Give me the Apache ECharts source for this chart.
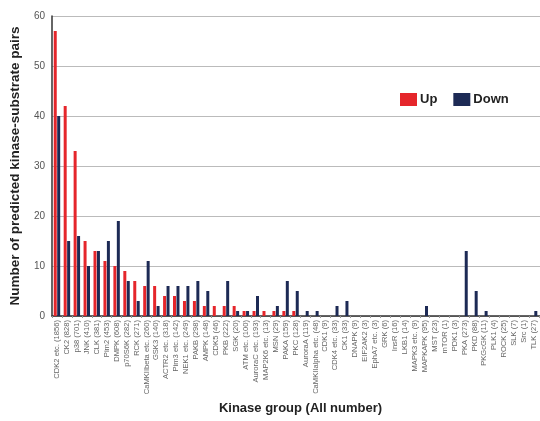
<!DOCTYPE html>
<html>
<head>
<meta charset="utf-8">
<script src="https://cdn.jsdelivr.net/npm/echarts@6/dist/echarts.min.js"></script>
<style>
  html, body { margin: 0; padding: 0; background: #fff; overflow: hidden; }
  /* the chart is a bit wider than the window: the last category is cut at the right edge */
  #main { width: 550px; height: 421px; }
</style>
</head>
<body>
<div id="main"></div>
<script>
  var kinases = ['CDK2 etc. (1856)', 'CK2 (828)', 'p38 (701)', 'JNK (410)', 'CLK (381)', 'Pim2 (453)',
    'DMPK (608)', 'p70S6K (282)', 'RCK (271)', 'CaMKIIbeta etc. (260)', 'GSK3 (140)', 'ACTR2 etc. (318)',
    'Pim3 etc. (142)', 'NEK1 etc. (249)', 'PAKB (298)', 'AMPK (148)', 'CDK5 (46)', 'PKB (222)', 'SGK (20)',
    'ATM etc. (100)', 'AuroraC etc. (193)', 'MAP2K6 etc. (13)', 'MSN (29)', 'PAKA (159)', 'PKC (128)',
    'AuroraA (119)', 'CaMKIIalpha etc. (48)', 'CDK1 (9)', 'CDK4 etc. (33)', 'CK1 (33)', 'DNAPK (9)',
    'EIF2AK2 (3)', 'EphA7 etc. (3)', 'GRK (6)', 'InsR (16)', 'LKB1 (14)', 'MAPK3 etc. (9)', 'MAPKAPK (95)',
    'MST (23)', 'mTOR (1)', 'PDK1 (3)', 'PKA (273)', 'PKD (88)', 'PKGcGK (11)', 'PLK1 (4)', 'ROCK (25)',
    'SLK (7)', 'Src (1)', 'TLK (27)', 'VRK (2)'];

  var upData = [57, 42, 33, 15, 13, 11, 10, 9, 7, 6, 6, 4, 4, 3, 3, 2, 2, 2, 2, 1, 1, 1, 1, 1, 1,
    0, 0, 0, 0, 0, 0, 0, 0, 0, 0, 0, 0, 0, 0, 0, 0, 0, 0, 0, 0, 0, 0, 0, 0, 0];
  var downData = [40, 15, 16, 10, 13, 15, 19, 7, 3, 11, 2, 6, 6, 6, 7, 5, 0, 7, 1, 1, 4, 0, 2, 7, 5,
    1, 1, 0, 2, 3, 0, 0, 0, 0, 0, 0, 0, 2, 0, 0, 0, 13, 5, 1, 0, 0, 0, 0, 1, 0];

  var chart = echarts.init(document.getElementById('main'));
  var option = {
    animation: false,
    backgroundColor: '#fff',
    legend: {
      data: ['Up', 'Down'],
      left: 395,
      top: 88,
      itemWidth: 17,
      itemHeight: 13,
      itemGap: 16,
      icon: 'rect',
      textStyle: { fontFamily: 'Liberation Sans', fontWeight: 'bold', fontSize: 13, color: '#222', padding: [0, 0, 0, -2] }
    },
    grid: { left: 49, top: 16, width: 500, height: 300 },
    xAxis: {
      type: 'category',
      data: kinases,
      name: 'Kinase group (All number)',
      nameLocation: 'middle',
      nameGap: 80,
      nameTextStyle: { fontFamily: 'Liberation Sans', fontWeight: 'bold', fontSize: 13, color: '#222' },
      axisLine: { lineStyle: { color: '#333', width: 1.5 } },
      axisTick: { show: true, length: 2, lineStyle: { color: '#999' } },
      axisLabel: { interval: 0, rotate: 90, fontSize: 7.6, color: '#666', fontFamily: 'Liberation Sans', margin: 4 }
    },
    yAxis: {
      type: 'value',
      min: 0,
      max: 60,
      interval: 10,
      name: 'Number of predicted kinase-substrate pairs',
      nameLocation: 'middle',
      nameGap: 30,
      nameTextStyle: { fontFamily: 'Liberation Sans', fontWeight: 'bold', fontSize: 13.5, color: '#222' },
      axisLine: { show: true, lineStyle: { color: '#333', width: 1.5 } },
      axisTick: { show: false },
      axisLabel: { fontSize: 10, color: '#555', fontFamily: 'Liberation Sans', margin: 7 },
      splitLine: { lineStyle: { color: '#bbb', width: 1 } }
    },
    series: [
      {
        name: 'Up',
        type: 'bar',
        data: upData,
        barWidth: 3,
        barGap: '15%',
        itemStyle: { color: '#e5262b' }
      },
      {
        name: 'Down',
        type: 'bar',
        data: downData,
        barWidth: 3,
        itemStyle: { color: '#1d2a55' }
      }
    ]
  };
  chart.setOption(option);
</script>
</body>
</html>
